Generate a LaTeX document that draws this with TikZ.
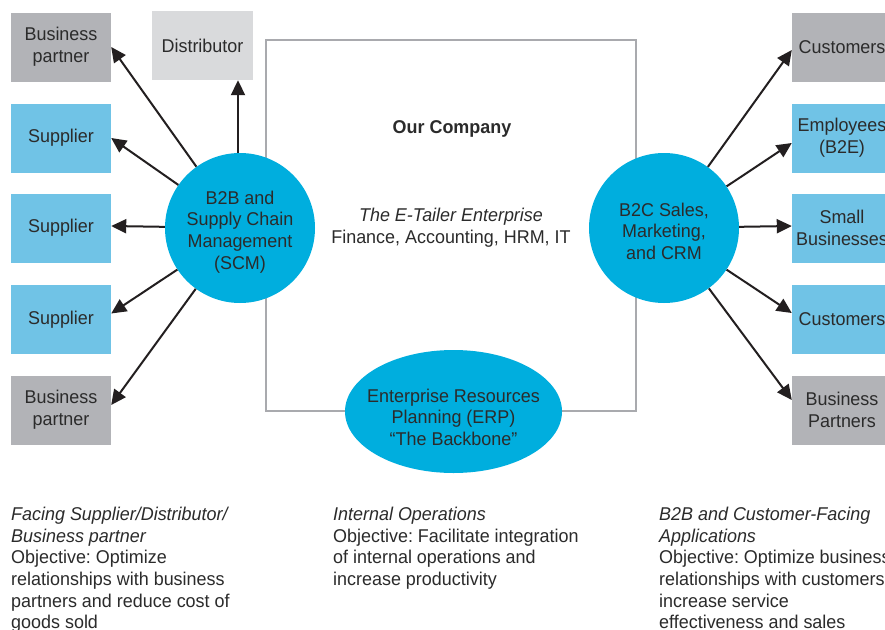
\documentclass[tikz,border=0pt]{standalone}
\usepackage{fontspec}
\setmainfont{Liberation Sans}[FakeStretch=0.97]
\usetikzlibrary{arrows.meta,shapes.geometric,calc}
\definecolor{txt}{HTML}{2B2B2B}
\definecolor{boxblue}{HTML}{70C3E6}
\definecolor{boxgray}{HTML}{B2B3B7}
\definecolor{boxlight}{HTML}{D9DADC}
\definecolor{cyanfill}{HTML}{00AEDE}
\definecolor{frame}{HTML}{A9AAAE}
\definecolor{arrcol}{HTML}{231F20}
\frenchspacing
\begin{document}
\begin{tikzpicture}[x=1pt,y=-1pt,
  every node/.style={text=txt,font=\fontsize{18.5}{21.6}\selectfont},
  ebox/.style={minimum width=100pt,minimum height=69pt,inner sep=0pt,align=center},
  bluebox/.style={ebox,fill=boxblue},
  graybox/.style={ebox,fill=boxgray},
  lightbox/.style={ebox,fill=boxlight},
  hub/.style={circle,fill=cyanfill,minimum size=150pt,inner sep=0pt},
  hubtext/.style={align=center,inner sep=0pt},
  arr/.style={draw=arrcol,line width=2pt,-{Triangle[length=15pt,width=14pt]}},
  caption/.style={anchor=north west,align=left,inner sep=0pt}
]
\useasboundingbox (0,0) rectangle (885,629);
\fill[white] (0,0) rectangle (885,629);
% company frame
\draw[frame,line width=2.5pt] (266,40) rectangle (636,411);
\node[font=\fontsize{18.5}{21.6}\selectfont\bfseries] (oc) at (452,129) {Our Company};
\node[align=center] (et) at (451,228) {\textit{The E-Tailer Enterprise}\\Finance, Accounting, HRM, IT};
% left boxes
\node[graybox] (bp1) at (61,47) {Business\\partner};
\node[bluebox] (s1) at (61,138) {Supplier};
\node[bluebox] (s2) at (61,228) {Supplier};
\node[bluebox] (s3) at (61,319.5) {Supplier};
\node[graybox] (bp2) at (61,410) {Business\\partner};
\node[lightbox,minimum width=101pt] (dist) at (202.5,45.5) {Distributor};
% right boxes
\node[graybox] (c1) at (842,47) {Customers};
\node[bluebox] (emp) at (842,138) {Employees\\(B2E)};
\node[bluebox] (sb) at (842,228) {Small\\Businesses};
\node[bluebox] (c2) at (842,319) {Customers};
\node[graybox] (bpr) at (842,410) {Business\\Partners};
% hubs
\node[hub] (scm) at (240,228) {};
\node[hubtext] (scmt) at (240,232) {B2B and\\Supply Chain\\Management\\(SCM)};
\node[hub] (b2c) at (664,228) {};
\node[hubtext] (b2ct) at (664,231) {B2C Sales,\\Marketing,\\and CRM};
\node[ellipse,fill=cyanfill,minimum width=217pt,minimum height=123pt,inner sep=0pt] (erp) at (453.5,411.5) {};
\node[hubtext] (erpt) at (453.5,417) {Enterprise Resources\\Planning (ERP)\\``The Backbone''};
% arrows left
\draw[arr] (scm) -- (bp1.east);
\draw[arr] (scm) -- (s1.east);
\draw[arr] (scm) -- ([yshift=2pt]s2.east);
\draw[arr] (scm) -- ([yshift=6pt]s3.east);
\draw[arr] (scm) -- ([yshift=5pt]bp2.east);
\draw[arr] ([xshift=-2pt]scm.north) -- ([xshift=-2pt]scm.north |- dist.south);
% arrows right
\draw[arr] (b2c) -- ([yshift=-3pt]c1.west);
\draw[arr] (b2c) -- ([yshift=-5pt]emp.west);
\draw[arr] (b2c) -- ([yshift=2pt]sb.west);
\draw[arr] (b2c) -- ([yshift=6pt]c2.west);
\draw[arr] (b2c) -- ([yshift=10pt]bpr.west);
% captions
\node[caption] (capl) at (11,507) {\textit{Facing Supplier/Distributor/}\\\textit{Business partner}\\Objective: Optimize\\relationships with business\\partners and reduce cost of\\goods sold};
\node[caption] (capm) at (333,507) {\textit{Internal Operations}\\Objective: Facilitate integration\\of internal operations and\\increase productivity};
\node[caption] (capr) at (659,507) {\textit{B2B and Customer-Facing}\\\textit{Applications}\\Objective: Optimize business\\relationships with customers,\\increase service\\effectiveness and sales};
\end{tikzpicture}
\end{document}
